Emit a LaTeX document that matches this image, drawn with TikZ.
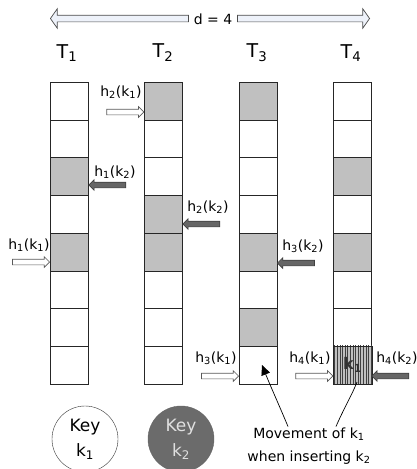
\documentclass[tikz,border=0pt]{standalone}
\usepackage{fontspec}
\setmainfont{DejaVu Sans}
\usetikzlibrary{shapes.arrows,arrows.meta}
\newcommand\sbs[1]{\textsubscript{#1}}
\definecolor{shade}{HTML}{C0C0C0}
\definecolor{darkarr}{HTML}{666666}
\definecolor{topfill}{HTML}{EEF2FA}
\begin{document}
\begin{tikzpicture}[x=1pt,y=-1pt,
  cellwhite/.style={draw=black!85,line width=0.8pt,fill=white,minimum width=38pt,minimum height=37.7pt,inner sep=0pt,anchor=north west},
  cellshade/.style={cellwhite,fill=shade},
  blk/.style={single arrow,minimum height=37pt,minimum width=10pt,inner ysep=2.5pt,inner xsep=0pt,single arrow head extend=2.5pt,line width=0.7pt,anchor=tip},
  karrow/.style={blk,draw=black!65,fill=white},
  darrow/.style={blk,draw=black!75,fill=darkarr,shape border rotate=180},
  lbl/.style={font=\fontsize{14}{16}\selectfont,inner sep=0pt},
  tlbl/.style={font=\fontsize{19}{21}\selectfont,inner sep=0pt},
  toparr/.style={single arrow,minimum width=19pt,inner ysep=3pt,inner xsep=0pt,single arrow head extend=6.5pt,single arrow tip angle=110,draw=black!70,fill=topfill,line width=0.7pt,anchor=tip}
]
\useasboundingbox (0,0) rectangle (417,469);

% top distance arrow
\node[toparr,minimum height=138pt,shape border rotate=180] (dl) at (50,18.5) {};
\node[toparr,minimum height=132pt] (dr) at (370,18.5) {};
\node[lbl] (d) at (213,19) {d = 4};

% table labels
\node[tlbl] (t1) at (67,53) {T\sbs{1}};
\node[tlbl] (t2) at (163,53) {T\sbs{2}};
\node[tlbl] (t3) at (257,53) {T\sbs{3}};
\node[tlbl] (t4) at (351,53) {T\sbs{4}};

% T1
\foreach \i/\s in {1/cellwhite,2/cellwhite,3/cellshade,4/cellwhite,5/cellshade,6/cellwhite,7/cellwhite,8/cellwhite}
  \node[\s] (a\i) at (50,{82+(\i-1)*37.7}) {};
% T2
\foreach \i/\s in {1/cellshade,2/cellwhite,3/cellwhite,4/cellshade,5/cellshade,6/cellwhite,7/cellwhite,8/cellwhite}
  \node[\s] (b\i) at (144.3,{82+(\i-1)*37.7}) {};
% T3
\foreach \i/\s in {1/cellshade,2/cellwhite,3/cellwhite,4/cellwhite,5/cellshade,6/cellwhite,7/cellshade,8/cellwhite}
  \node[\s] (c\i) at (239,{82+(\i-1)*37.7}) {};
% T4
\foreach \i/\s in {1/cellwhite,2/cellwhite,3/cellshade,4/cellwhite,5/cellshade,6/cellwhite,7/cellwhite,8/cellshade}
  \node[\s] (e\i) at (333.3,{82+(\i-1)*37.7}) {};
% hatched cell in T4
\begin{scope}
  \clip (e8.north west) rectangle (e8.south east);
  \foreach \k in {0,...,14}
    \draw[black!75,line width=0.6pt] ({333.3+1.3+\k*2.6},340) -- ({333.3+1.3+\k*2.6},390);
\end{scope}
\draw[black!85,line width=0.8pt] (e8.north west) rectangle (e8.south east);
\node[font=\fontsize{16}{18}\selectfont\bfseries,text=black!80,inner sep=0pt] (k1c) at (e8.center) {k\sbs{1}};

% hash arrows and labels
\node[karrow] (p11) at (50,262) {};
\node[lbl] (l11) at (29,245) {h\sbs{1}(k\sbs{1})};
\node[darrow] (p12) at (88.3,185) {};
\node[lbl] (l12) at (115,172) {h\sbs{1}(k\sbs{2})};
\node[karrow] (p21) at (144.3,112) {};
\node[lbl] (l21) at (121,92) {h\sbs{2}(k\sbs{1})};
\node[darrow] (p22) at (182.3,224) {};
\node[lbl] (l22) at (208,207) {h\sbs{2}(k\sbs{2})};
\node[darrow] (p32) at (277,263) {};
\node[lbl] (l32) at (303,246) {h\sbs{3}(k\sbs{2})};
\node[karrow] (p31) at (239,376) {};
\node[lbl] (l31) at (216,358) {h\sbs{3}(k\sbs{1})};
\node[karrow] (p41) at (333.3,376) {};
\node[lbl] (l41) at (310,358) {h\sbs{4}(k\sbs{1})};
\node[darrow] (p42) at (371.3,376) {};
\node[lbl] (l42) at (397,358) {h\sbs{4}(k\sbs{2})};

% keys
\node[circle,draw=black!80,fill=white,minimum size=66pt,inner sep=0pt,align=center,
      font=\fontsize{17}{25}\selectfont] (key1) at (85,439) {Key\\k\sbs{1}};
\node[circle,draw=black!60,fill=black!58,text=black!12,minimum size=66pt,inner sep=0pt,align=center,
      font=\fontsize{17}{25}\selectfont] (key2) at (181,439) {Key\\k\sbs{2}};

% movement annotation
\node[lbl,align=center,font=\fontsize{14}{23}\selectfont] (mv) at (309,446) {Movement of k\sbs{1}\\when inserting k\sbs{2}};
\coordinate (m1) at (288,426.5);
\coordinate (m2) at (336,426.5);
\coordinate (mt) at (262,365);
\coordinate (mh) at (357,382);
\draw[line width=0.7pt,-{Triangle[length=10pt,width=9pt]}] (m1) .. controls (279,405) and (270,385) .. (mt);
\draw[line width=0.7pt] (m2) .. controls (344,408) and (352,395) .. (mh);
\end{tikzpicture}
\end{document}
